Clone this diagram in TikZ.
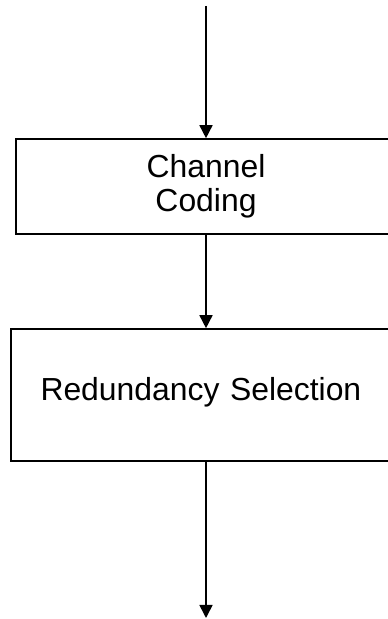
\documentclass[tikz,border=0pt]{standalone}
\usepackage{fontspec}
\setmainfont{Liberation Sans}
\usetikzlibrary{arrows.meta}

\newlength{\du}
\setlength{\du}{1bp}

\begin{document}
\begin{tikzpicture}[
  block/.style={draw=black, line width=1.6\du, fill=white, inner sep=0pt,
    font=\fontsize{32}{34}\selectfont, align=center},
  flow/.style={draw=black, line width=1.6bp, -{Triangle[width=13bp,length=13bp]}}
]
\useasboundingbox (0,0) rectangle (387\du,619\du);
% setfont left to latex
\coordinate (in) at (206\du,613\du);
\node[block, minimum width=380\du, minimum height=95\du] (coding) at (206\du,432.5\du){Channel\\Coding};
\node[block, minimum width=390\du, minimum height=132\du, text depth=13\du, text width=331\du, align=left] (redund) at (206\du,224\du){Redundancy Selection};
\coordinate (out) at (206\du,1\du);
% was here!!!
\draw[flow] (in)--(coding.north);
\draw[flow] (coding.south)--(redund.north);
\draw[flow] (redund.south)--(out);
\end{tikzpicture}
\end{document}
